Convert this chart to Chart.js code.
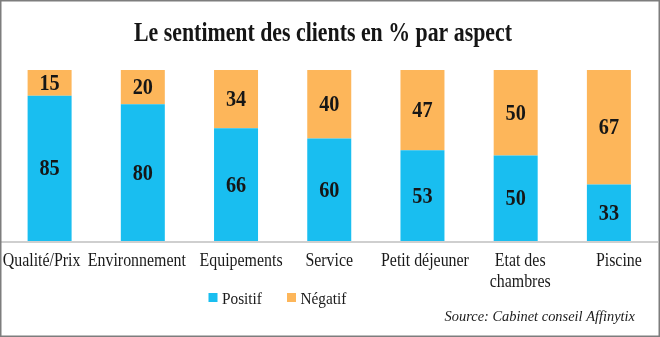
<!DOCTYPE html>
<html>
<head>
<meta charset="utf-8">
<script src="https://cdn.jsdelivr.net/npm/chart.js@4/dist/chart.umd.min.js"></script>
<style>
  html, body { margin: 0; padding: 0; background: #fff; }
  #wrap { width: 660px; height: 337px; position: relative; }
</style>
</head>
<body>
<div id="wrap"><canvas id="c" width="660" height="337"></canvas></div>
<script>
// Aspects rated by customers
const categories = ['Qualité/Prix', 'Environnement', 'Equipements', 'Service', 'Petit déjeuner', ['Etat des', 'chambres'], 'Piscine'];
// Share of positive / negative sentiment, in %
const positif = [85, 80, 66, 60, 53, 50, 33];
const negatif = [15, 20, 34, 40, 47, 50, 67];
const seriesNames = ['Positif', 'Négatif'];

const titleText = 'Le sentiment des clients en % par aspect';
const sourceText = 'Source: Cabinet conseil Affinytix';

const BLUE = '#19bef0';
const ORANGE = '#fdb65a';
const SERIF = '"Liberation Serif", "Times New Roman", serif';

// Horizontal nudges (px) keeping neighbouring category labels apart
const labelNudge = [-8, -6, 5, 0, 2.5, 4.5, 10];

// Condensed text helper: draws text squeezed horizontally around (x, y)
function condensed(ctx, text, x, y, font, sx, align, baseline, color) {
  ctx.save();
  ctx.fillStyle = color || '#1a1a1a';
  ctx.font = font;
  ctx.textAlign = align;
  ctx.textBaseline = baseline;
  ctx.translate(x, y);
  ctx.scale(sx, 1);
  ctx.fillText(text, 0, 0);
  ctx.restore();
}

// Draws the title, category labels, values inside bars, baseline, legend, source and frame
const decor = {
  id: 'decor',
  afterDraw(chart) {
    const ctx = chart.ctx;
    const area = chart.chartArea;
    const xScale = chart.scales.x;

    // baseline
    ctx.save();
    ctx.strokeStyle = '#cfcfcf';
    ctx.lineWidth = 2;
    ctx.beginPath();
    ctx.moveTo(1, area.bottom + 1);
    ctx.lineTo(658, area.bottom + 1);
    ctx.stroke();
    ctx.restore();

    // title
    condensed(ctx, titleText, 323, 41, 'bold 28px ' + SERIF, 0.78, 'center', 'alphabetic', '#151515');

    // category labels under the axis
    chart.data.labels.forEach((lab, j) => {
      const x = xScale.getPixelForValue(j) + (labelNudge[j] || 0);
      const lines = Array.isArray(lab) ? lab : [lab];
      lines.forEach((line, k) => {
        condensed(ctx, line, x, area.bottom + 24.5 + k * 21, '18.5px ' + SERIF, 0.86, 'center', 'alphabetic', '#1a1a1a');
      });
    });

    // values inside each segment
    chart.data.datasets.forEach((ds, i) => {
      const meta = chart.getDatasetMeta(i);
      meta.data.forEach((bar, j) => {
        const cy = (bar.y + bar.base) / 2;
        condensed(ctx, String(ds.data[j]), bar.x, cy + 1, 'bold 23px ' + SERIF, 0.88, 'center', 'middle', '#161616');
      });
    });

    // legend
    const legendX = [208.5, 287];
    chart.data.datasets.forEach((ds, i) => {
      ctx.save();
      ctx.fillStyle = ds.backgroundColor;
      ctx.fillRect(legendX[i], 293, 9, 9);
      ctx.restore();
      condensed(ctx, ds.label, legendX[i] + 13.5, 304, '17px ' + SERIF, 0.9, 'left', 'alphabetic', '#1a1a1a');
    });

    // source
    condensed(ctx, sourceText, 635, 317, 'italic 15.5px ' + SERIF, 0.93, 'right', 'middle', '#1a1a1a');

    // frame
    ctx.save();
    ctx.strokeStyle = '#7d7d7d';
    ctx.lineWidth = 1.5;
    ctx.strokeRect(0.75, 0.75, 658.5, 335.5);
    ctx.restore();
  }
};

new Chart(document.getElementById('c'), {
  type: 'bar',
  data: {
    labels: categories,
    datasets: [
      { label: seriesNames[0], data: positif, backgroundColor: BLUE, borderWidth: 0 },
      { label: seriesNames[1], data: negatif, backgroundColor: ORANGE, borderWidth: 0 }
    ]
  },
  options: {
    responsive: false,
    animation: false,
    events: [],
    datasets: { bar: { categoryPercentage: 1, barPercentage: 0.472 } },
    layout: { padding: { left: 3, right: 4.5, top: 70, bottom: 96 } },
    plugins: {
      legend: { display: false },
      title: { display: false },
      tooltip: { enabled: false }
    },
    scales: {
      x: {
        stacked: true,
        grid: { display: false, drawTicks: false },
        border: { display: false },
        ticks: { display: false }
      },
      y: {
        stacked: true,
        display: false,
        min: 0,
        max: 100
      }
    }
  },
  plugins: [decor]
});
</script>
</body>
</html>
